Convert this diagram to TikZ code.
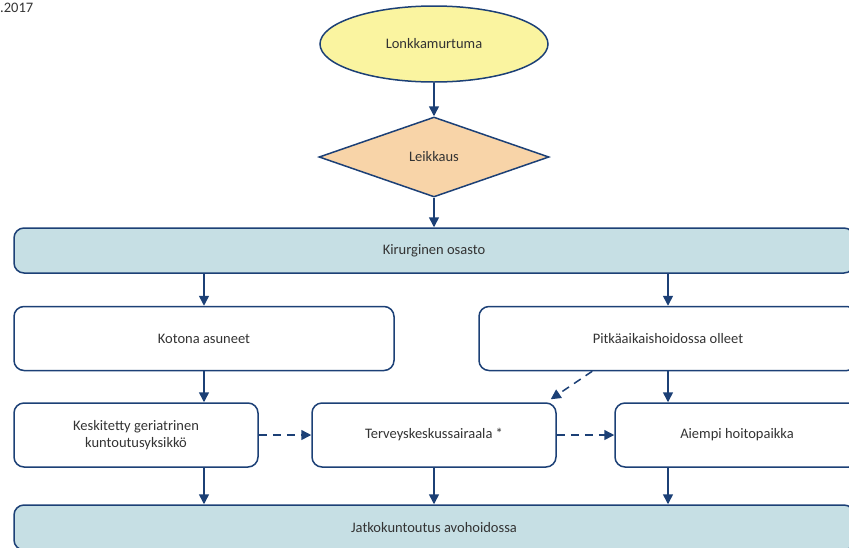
\documentclass[tikz,border=0pt]{standalone}
\usepackage{fontspec}
\setmainfont{Carlito}
\usetikzlibrary{calc, arrows.meta, shapes.geometric}
\definecolor{lineblue}{RGB}{28,64,118}
\definecolor{pale}{RGB}{250,244,160}
\definecolor{peach}{RGB}{248,212,168}
\definecolor{lightteal}{RGB}{198,223,228}
\definecolor{txt}{RGB}{51,51,51}
\tikzset{
  lbl/.style={text=txt, font=\fontsize{14.5}{17}\selectfont},
  box/.style={lbl, draw=lineblue, line width=1.5pt, rounded corners=10pt, fill=white,
    minimum height=64pt, align=center},
  band/.style={box, fill=lightteal, minimum height=45pt, minimum width=840pt},
  arr/.style={draw=lineblue, line width=1.5pt, -{Triangle[length=10pt,width=10pt]}},
  dasharr/.style={arr, dash pattern=on 8pt off 6pt}
}
\begin{document}
\begin{tikzpicture}[x=1pt, y=-1pt]
  \useasboundingbox (0,0) rectangle (849,547);
  \clip (0,0) rectangle (849,547);
  \node[lbl, anchor=west, inner sep=0pt] (yr) at (0,8) {.2017};
  \node[lbl, ellipse, draw=lineblue, line width=1.5pt, fill=pale, minimum width=228pt,
    minimum height=76pt] (lon) at (434,44) {Lonkkamurtuma};
  \node[lbl, diamond, draw=lineblue, line width=1.5pt, fill=peach, minimum width=230pt,
    minimum height=80pt, inner sep=0pt] (lei) at (434,157) {Leikkaus};
  \node[band] (kir) at (434,250.5) {Kirurginen osasto};
  \node[box, minimum width=380pt] (kot) at (204,338.5) {Kotona asuneet};
  \node[box, minimum width=378pt] (pit) at (668,338.5) {Pitkäaikaishoidossa olleet};
  \node[box, minimum width=244pt] (kes) at (136,435) {Keskitetty geriatrinen\\kuntoutusyksikkö};
  \node[box, minimum width=244pt] (ter) at (434,435) {Terveyskeskussairaala *};
  \node[box, minimum width=244pt] (aie) at (737,435) {Aiempi hoitopaikka};
  \node[band] (jat) at (434,527.5) {Jatkokuntoutus avohoidossa};
  \draw[arr] (lon) -- (lei);
  \draw[arr] (lei) -- (kir);
  \draw[arr] (kir.south -| kot) -- (kot);
  \draw[arr] (kir.south -| pit) -- (pit);
  \draw[arr] (kot) -- (kot |- kes.north);
  \draw[arr] (pit) -- (pit |- aie.north);
  \draw[dasharr] ($(pit.south west)+(114,0)$) -- ($(ter.north east)+(-6,-3)$);
  \draw[dasharr] (kes) -- (ter);
  \draw[dasharr] (ter) -- (aie);
  \draw[arr] (kes.south -| kot) -- (jat.north -| kot);
  \draw[arr] (ter.south) -- (jat.north);
  \draw[arr] (aie.south -| pit) -- (jat.north -| pit);
\end{tikzpicture}
\end{document}
